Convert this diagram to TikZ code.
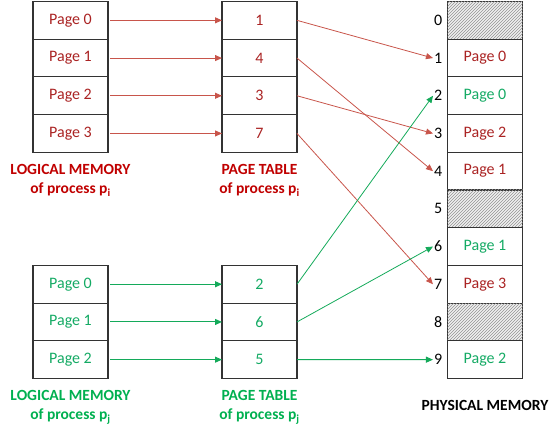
\documentclass[tikz,border=0pt]{standalone}
\usepackage{fontspec}
\setmainfont{Carlito}
\usepackage{xcolor}
\usetikzlibrary{arrows.meta, positioning, patterns}
\definecolor{PiRed}{RGB}{170,35,35}
\definecolor{TitleRed}{RGB}{192,0,0}
\definecolor{ArrowRed}{RGB}{200,85,75}
\definecolor{PjGreen}{RGB}{20,170,100}
\definecolor{TitleGreen}{RGB}{0,176,80}
\definecolor{ArrowGreen}{RGB}{20,170,90}

\begin{document}
\begin{tikzpicture}[
          x=1pt, y=-1pt,
          node distance=0pt,
          cell/.style={rectangle, draw=black!80, line width=1.1pt, minimum width=75pt, minimum height=37.7pt, inner sep=0pt, outer sep=0pt, font=\fontsize{16}{18}\selectfont},
          free/.style={cell, fill=gray!12, postaction={pattern=north east lines, pattern color=gray!85}},
          frame/.style={font=\fontsize{16}{18}\selectfont, inner sep=1pt},
          caption/.style={font=\fontsize{15.5}{19}\selectfont\bfseries, align=center, inner sep=0pt},
          redflow/.style={-{Triangle[length=7pt,width=6pt]}, line width=1pt, ArrowRed, shorten <=2pt},
          redmap/.style={-{Triangle[length=7pt,width=6pt]}, line width=0.8pt, ArrowRed},
          greenflow/.style={-{Triangle[length=7pt,width=6pt]}, line width=1pt, ArrowGreen, shorten <=2pt},
          greenmap/.style={-{Triangle[length=7pt,width=6pt]}, line width=0.8pt, ArrowGreen}
        ]
          \useasboundingbox (0,0) rectangle (560,433);

          % logical memory and page table of process p_i
          \node (li0) [cell, text=PiRed] at (70.5,20.35) {Page 0};
          \node (li1) [cell, text=PiRed, below=of li0] {Page 1};
          \node (li2) [cell, text=PiRed, below=of li1] {Page 2};
          \node (li3) [cell, text=PiRed, below=of li2] {Page 3};
          \node (ti0) [cell, text=PiRed] at (259.5,20.35) {1};
          \node (ti1) [cell, text=PiRed, below=of ti0] {4};
          \node (ti2) [cell, text=PiRed, below=of ti1] {3};
          \node (ti3) [cell, text=PiRed, below=of ti2] {7};
          \node (capli) [caption, text=TitleRed, below=12pt of li3] {LOGICAL MEMORY\\of process p\textsubscript{i}};
          \node (capti) [caption, text=TitleRed, below=12pt of ti3] {PAGE TABLE\\of process p\textsubscript{i}};

          % logical memory and page table of process p_j
          \node (lj0) [cell, text=PjGreen] at (70.5,284.25) {Page 0};
          \node (lj1) [cell, text=PjGreen, below=of lj0] {Page 1};
          \node (lj2) [cell, text=PjGreen, below=of lj1] {Page 2};
          \node (tj0) [cell, text=PjGreen] at (259.5,284.25) {2};
          \node (tj1) [cell, text=PjGreen, below=of tj0] {6};
          \node (tj2) [cell, text=PjGreen, below=of tj1] {5};
          \node (caplj) [caption, text=TitleGreen, below=12pt of lj2] {LOGICAL MEMORY\\of process p\textsubscript{j}};
          \node (captj) [caption, text=TitleGreen, below=12pt of tj2] {PAGE TABLE\\of process p\textsubscript{j}};

          % physical memory
          \node (m0) [free] at (485,20.35) {};
          \node (m1) [cell, text=PiRed, below=of m0] {Page 0};
          \node (m2) [cell, text=PjGreen, below=of m1] {Page 0};
          \node (m3) [cell, text=PiRed, below=of m2] {Page 2};
          \node (m4) [cell, text=PiRed, below=of m3] {Page 1};
          \node (m5) [free, below=of m4] {};
          \node (m6) [cell, text=PjGreen, below=of m5] {Page 1};
          \node (m7) [cell, text=PiRed, below=of m6] {Page 3};
          \node (m8) [free, below=of m7] {};
          \node (m9) [cell, text=PjGreen, below=of m8] {Page 2};
          \foreach \k in {0,...,9}
            \node (n\k) [frame, left=4pt of m\k] {\k};
          \node (capm) [caption, below=22pt of m9] {PHYSICAL MEMORY};

          % connectors
          \foreach \k in {0,...,3}
            \draw [redflow] (li\k.east) -- (ti\k.west);
          \foreach \k in {0,...,2}
            \draw [greenflow] (lj\k.east) -- (tj\k.west);
          \foreach \a/\b in {0/1, 1/4, 2/3, 3/7}
            \draw [redmap] (ti\a.east) -- (n\b.west);
          \foreach \a/\b in {0/2, 1/6}
            \draw [greenmap] (tj\a.east) -- (n\b.west);
          \draw [greenflow, shorten <=0pt] (tj2.east) -- (n9.west);
        \end{tikzpicture}
\end{document}
